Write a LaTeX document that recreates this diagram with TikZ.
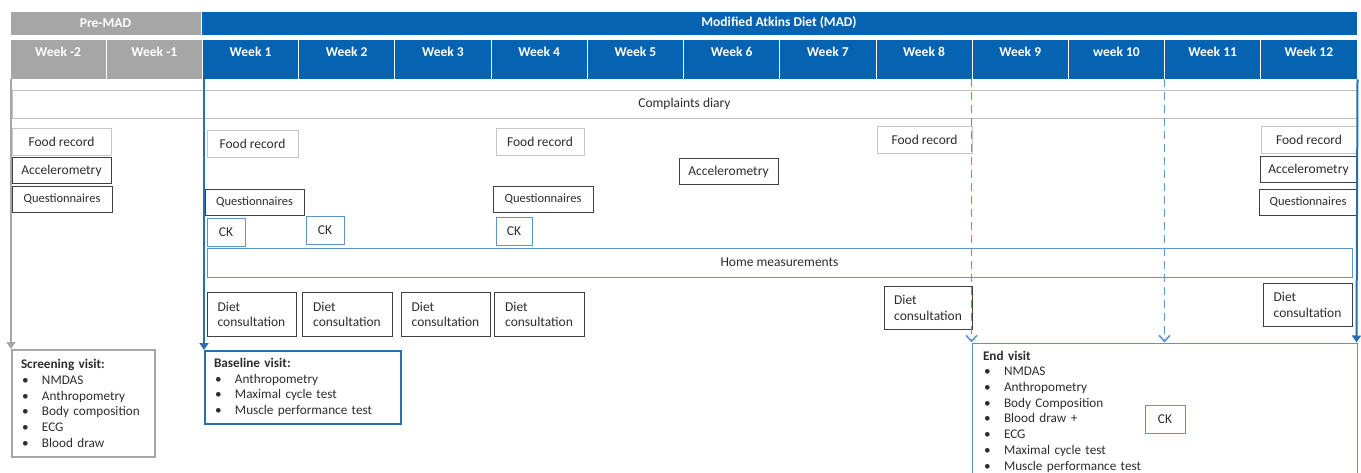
\documentclass[tikz,border=0pt]{standalone}
\usepackage{fontspec}
\setmainfont{Carlito}
\usetikzlibrary{arrows.meta}
\definecolor{madblue}{RGB}{6,99,177}
\definecolor{linkblue}{RGB}{40,110,180}
\definecolor{paleblue}{RGB}{95,148,200}
\definecolor{pregray}{RGB}{166,166,166}
\definecolor{txtgray}{RGB}{45,45,45}
\newcommand{\itm}[1]{\makebox[21pt][l]{\hspace{1pt}\textbullet}#1}

\begin{document}
\begin{tikzpicture}[x=1pt,y=-1pt,
    every node/.style={font=\fontsize{13.5}{15.7}\selectfont, text=txtgray, inner sep=0pt},
    headcell/.style={fill=#1, draw=white, line width=0.8pt, text=white,
      font=\fontsize{13.5}{15}\selectfont\bfseries},
    weekcell/.style={headcell=#1, minimum width=96.214, text height=15.5, text depth=20.5, inner ysep=2},
    foodbox/.style={draw=gray!45, line width=0.9pt, minimum height=27},
    darkbox/.style={draw=black!75, line width=1pt, minimum height=26},
    ckbox/.style={draw=paleblue, line width=0.9pt, minimum width=38, minimum height=28},
    dietbox/.style={darkbox, align=left, minimum height=43},
    visitbox/.style={align=left, inner xsep=9, font=\fontsize{13.2}{15.7}\selectfont},
    grayarrow/.style={draw=pregray, line width=2pt, -{Triangle[width=9pt,length=7pt]}},
    bluearrow/.style={draw=linkblue, line width=2pt, -{Triangle[width=9pt,length=7pt]}},
    dasharrow/.style={draw=paleblue, line width=1.6pt, dash pattern=on 8pt off 5pt,
      -{Straight Barb[width=11pt,length=6pt]}}]
    \useasboundingbox (0,0) rectangle (1361,473);
    \clip (0,0) rectangle (1361,473);

    % En-tete
    \node[headcell=pregray, minimum width=191, minimum height=24] (premad) at (105.5,23) {Pre-MAD};
    \node[headcell=madblue, minimum width=1156, minimum height=24] (mad) at (779,23) {Modified Atkins Diet (MAD)};

    % Semaines
    \foreach \i/\lab in {0/Week -2,1/Week -1,2/Week 1,3/Week 2,4/Week 3,5/Week 4,6/Week 5,
        7/Week 6,8/Week 7,9/Week 8,10/Week 9,11/week 10,12/Week 11,13/Week 12} {
      \ifnum\i<2 \def\col{pregray}\else\def\col{madblue}\fi
      \node[weekcell=\col] (h\i) at ({10+(\i+0.5)*96.214},59) {\lab};
    }

    % Lignes continues
    \node[draw=gray!50, line width=0.9pt, minimum width=1345, minimum height=28] (diary) at (684.5,104) {Complaints diary};
    \node[draw=paleblue, line width=0.9pt, minimum width=1145, minimum height=29] (home) at (779.5,262.5) {Home measurements};

    % Food record
    \node[foodbox, minimum width=99] (fr0) at (61.5,141.5) {Food record};
    \node[foodbox, minimum width=91] (fr1) at (252.5,143.5) {Food record};
    \node[foodbox, minimum width=88] (fr4) at (540,141.5) {Food record};
    \node[foodbox, minimum width=95] (fr8) at (924.5,140) {Food record};
    \node[foodbox, minimum width=96] (fr12) at (1309,140) {Food record};

    % Accelerometry
    \node[darkbox, minimum width=99] (ac0) at (61.5,170.5) {Accelerometry};
    \node[darkbox, minimum width=99] (ac6) at (728.5,171.5) {Accelerometry};
    \node[darkbox, minimum width=97] (ac12) at (1308.5,170) {Accelerometry};

    % Questionnaires
    \node[darkbox, minimum width=100, font=\fontsize{12.5}{14}\selectfont] (q0) at (62,199.5) {Questionnaires};
    \node[darkbox, minimum width=99, font=\fontsize{12.5}{14}\selectfont] (q1) at (254.5,202.5) {Questionnaires};
    \node[darkbox, minimum width=100, font=\fontsize{12.5}{14}\selectfont] (q4) at (543,199.5) {Questionnaires};
    \node[darkbox, minimum width=98, font=\fontsize{12.5}{14}\selectfont] (q12) at (1308,202.5) {Questionnaires};

    % CK
    \node[ckbox] (ck1) at (226,232.5) {CK};
    \node[ckbox] (ck2) at (325,230.5) {CK};
    \node[ckbox, minimum width=36] (ck4) at (514,231) {CK};

    % Diet consultation
    \node[dietbox, minimum width=89] (d1) at (251.5,314.5) {Diet\\consultation};
    \node[dietbox, minimum width=90] (d2) at (347,314.5) {Diet\\consultation};
    \node[dietbox, minimum width=89] (d3) at (445.5,314.5) {Diet\\consultation};
    \node[dietbox, minimum width=90] (d4) at (539,314.5) {Diet\\consultation};
    \node[dietbox, minimum width=88, minimum height=42] (d8) at (928,308) {Diet\\consultation};
    \node[dietbox, minimum width=89, minimum height=42] (d12) at (1307.5,305) {Diet\\consultation};

    % Visites
    \node[visitbox, draw=pregray, line width=2pt, text width=125, minimum height=107] (screen) at (83.5,403.5)
      {\textbf{Screening visit:}\\\itm{NMDAS}\\\itm{Anthropometry}\\\itm{Body composition}\\\itm{ECG}\\\itm{Blood draw}};
    \node[visitbox, draw=linkblue, line width=2pt, text width=178, minimum height=73] (base) at (303,387.5)
      {\textbf{Baseline visit:}\\\itm{Anthropometry}\\\itm{Maximal cycle test}\\\itm{Muscle performance test}};
    \node[visitbox, draw=paleblue, line width=1pt, inner xsep=11, text width=363, minimum height=137] (endv) at (1164.5,411.5)
      {\textbf{End visit}\\\itm{NMDAS}\\\itm{Anthropometry}\\\itm{Body Composition}\\\itm{Blood draw +}\\\itm{ECG}\\\itm{Maximal cycle test}\\\itm{Muscle performance test}};
    \node[ckbox, minimum width=40] (ck5) at (1165,419) {CK};

    % Fleches
    \draw[grayarrow] (screen.north west |- h0.south) -- (screen.north west);
    \draw[bluearrow] (base.north west |- h2.south) -- (base.north west);
    \draw[dasharrow] (endv.north west |- h10.south) -- (endv.north west);
    \draw[dasharrow] (endv.north |- h12.south) -- (endv.north);
    \draw[bluearrow] (endv.north east |- h13.south) -- ([xshift=-1pt]endv.north east);
\end{tikzpicture}
\end{document}
